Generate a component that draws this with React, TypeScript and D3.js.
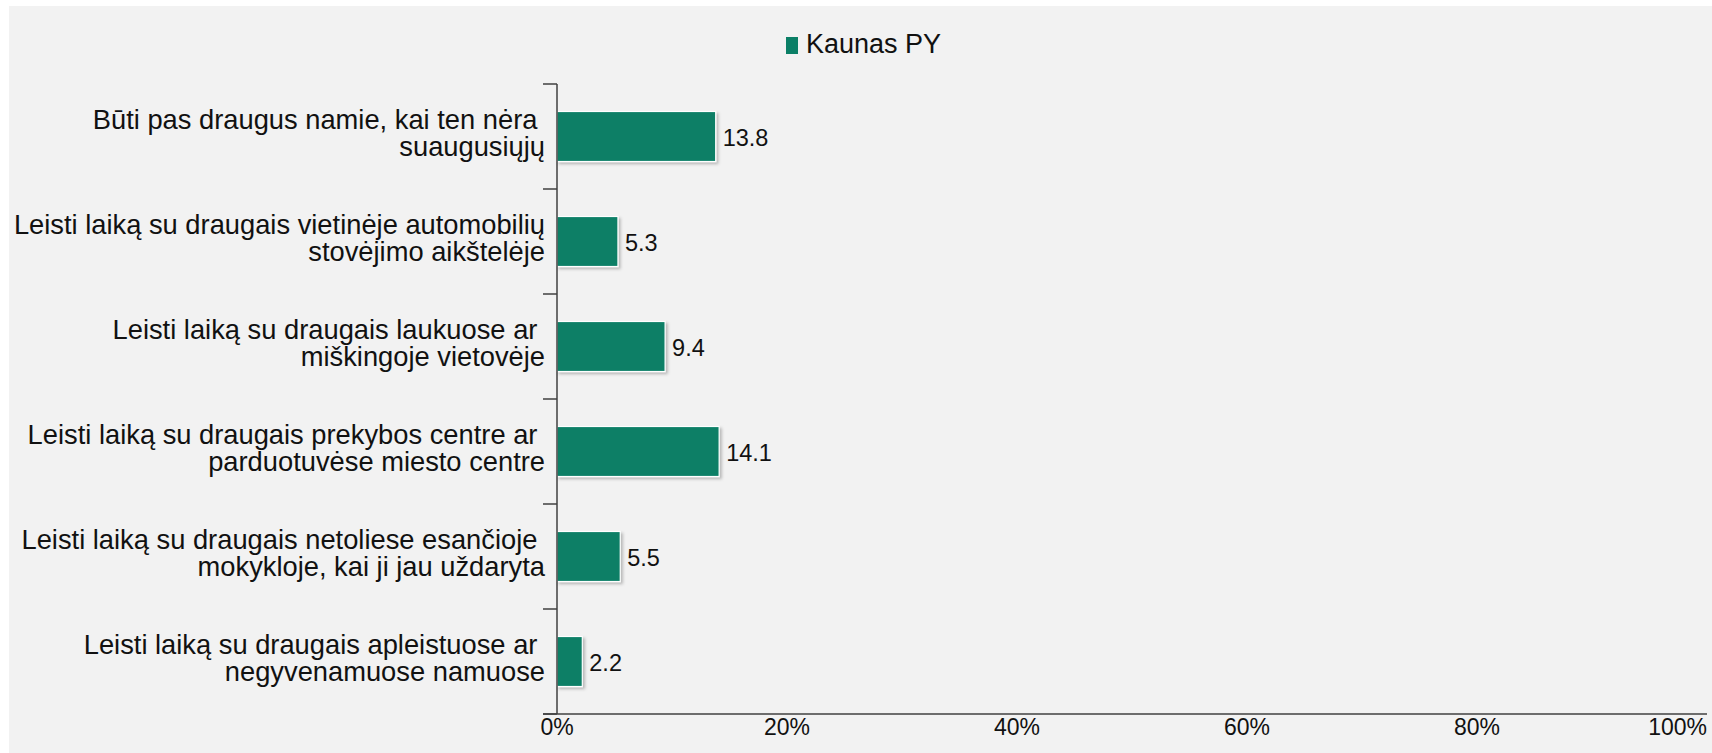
import React from "react";
import * as d3 from "d3";

const categories: string[][] = [
  ["Būti pas draugus namie, kai ten nėra ", "suaugusiųjų"],
  ["Leisti laiką su draugais vietinėje automobilių", "stovėjimo aikštelėje"],
  ["Leisti laiką su draugais laukuose ar ", "miškingoje vietovėje"],
  ["Leisti laiką su draugais prekybos centre ar ", "parduotuvėse miesto centre"],
  ["Leisti laiką su draugais netoliese esančioje ", "mokykloje, kai ji jau uždaryta"],
  ["Leisti laiką su draugais apleistuose ar ", "negyvenamuose namuose"],
];
const values: number[] = [13.8, 5.3, 9.4, 14.1, 5.5, 2.2];
const xTicks: number[] = [0, 20, 40, 60, 80, 100];
const seriesName = "Kaunas PY";

const W = 1712;
const H = 753;
const FONT = "'Liberation Sans', Arial, Helvetica, sans-serif";
const BAR = "#0b7f66";

export default function App() {
  const x = d3.scaleLinear().domain([0, 100]).range([557, 1707]);
  const y = d3
    .scaleBand<number>()
    .domain(d3.range(categories.length))
    .range([84, 714])
    .paddingInner(110 / 210)
    .paddingOuter(55 / 210);
  const band = d3
    .scaleBand<number>()
    .domain(d3.range(categories.length))
    .range([84, 714]);
  const axisColor = "#404040";
  const labelSize = 27.3;
  const lineGap = 27.4;

  return (
    <div style={{ position: "absolute", left: 0, top: 0, width: W, height: H }}>
      <style>{`body{margin:0;overflow:hidden}`}</style>
      <svg width={W} height={H} style={{ display: "block" }} fontFamily={FONT}>
        <defs>
          <filter id="sh" x="-10%" y="-10%" width="130%" height="140%">
            <feDropShadow dx="2" dy="2" stdDeviation="1.5" floodColor="#000" floodOpacity="0.25" />
          </filter>
        </defs>
        <rect x={0} y={0} width={W} height={H} fill="#ffffff" />
        <rect x={9} y={6} width={W - 9} height={H - 6} fill="#f2f2f2" />

        {/* legend */}
        <rect x={786} y={37} width={12} height={17} fill={BAR} />
        <text x={806} y={53} fontSize={27} fill="#111">
          {seriesName}
        </text>

        {/* bars */}
        {values.map((v, i) => (
          <rect
            key={"b" + i}
            x={x(0)}
            y={y(i)!}
            width={x(v) - x(0)}
            height={y.bandwidth()}
            fill={BAR}
            stroke="#ffffff"
            strokeWidth={1.2}
            filter="url(#sh)"
          />
        ))}

        {/* value labels */}
        {values.map((v, i) => (
          <text
            key={"v" + i}
            x={x(v) + 7}
            y={band(i)! + band.bandwidth() / 2 + 9}
            fontSize={23.5}
            fill="#111"
          >
            {v.toFixed(1)}
          </text>
        ))}

        {/* y axis */}
        <line x1={x(0)} x2={x(0)} y1={84} y2={714} stroke={axisColor} strokeWidth={1.5} />
        {d3.range(categories.length + 1).map((i) => {
          const yy = 84 + i * band.step();
          return (
            <line key={"t" + i} x1={x(0) - 14} x2={x(0)} y1={yy} y2={yy} stroke={axisColor} strokeWidth={1.5} />
          );
        })}
        {/* x axis */}
        <line x1={x(0) - 14} x2={x(100)} y1={714} y2={714} stroke={axisColor} strokeWidth={1.5} />
        {xTicks.map((t, k) => (
          <text
            key={"x" + t}
            x={x(t)}
            y={735}
            fontSize={23}
            textAnchor={k === xTicks.length - 1 ? "end" : "middle"}
            fill="#111"
          >
            {t + "%"}
          </text>
        ))}

        {/* category labels */}
        {categories.map((lines, i) => {
          const c = band(i)! + band.bandwidth() / 2;
          return (
            <text key={"c" + i} fontSize={labelSize} fill="#111" textAnchor="end" style={{ whiteSpace: "pre" }}>
              {lines.map((ln, j) => (
                <tspan key={j} x={545} y={c - 7.7 + j * lineGap}>
                  {ln}
                </tspan>
              ))}
            </text>
          );
        })}
      </svg>
    </div>
  );
}
